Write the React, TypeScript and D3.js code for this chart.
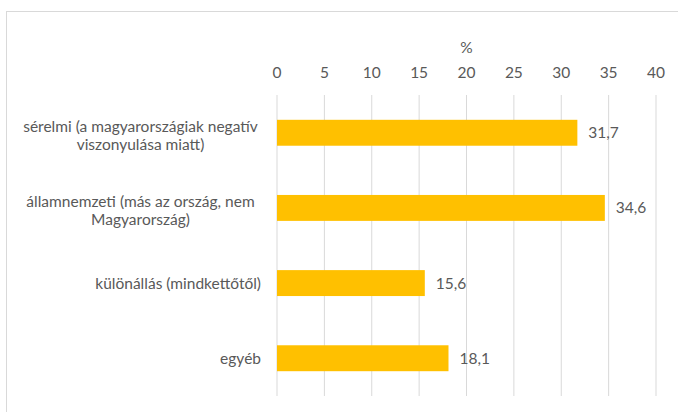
import React from "react";
import * as d3 from "d3";

const categories: string[][] = [
  ["sérelmi (a magyarországiak negatív", "viszonyulása miatt)"],
  ["államnemzeti (más az ország, nem", "Magyarország)"],
  ["különállás (mindkettőtől)"],
  ["egyéb"],
];
const values = [31.7, 34.6, 15.6, 18.1];
const valueLabels = ["31,7", "34,6", "15,6", "18,1"];
const ticks = [0, 5, 10, 15, 20, 25, 30, 35, 40];
const axisTitle = "%";

const W = 678;
const H = 412;
const FONT = "Lato, 'Open Sans', sans-serif";
const TEXT = "#595959";
const GRID = "#d9d9d9";
const BAR = "#FFC000";
const FS = 15.5;

export default function App() {
  const x = d3.scaleLinear().domain([0, 40]).range([277, 656]);
  const y = d3
    .scaleBand<number>()
    .domain(values.map((_, i) => i))
    .range([95, 396])
    .paddingInner(0.655)
    .paddingOuter(0.33);
  const lineH = 18;
  return (
    <svg
      width={W}
      height={H}
      style={{ position: "absolute", left: 0, top: 0 }}
      fontFamily={FONT}
    >
      <rect x={0} y={0} width={W} height={H} fill="#fff" />
      <rect x={6.5} y={11.5} width={W + 20} height={H + 20} fill="none" stroke={GRID} />
      <text x={(x(0) + x(40)) / 2} y={53} textAnchor="middle" fontSize={FS} fill={TEXT}>
        {axisTitle}
      </text>
      {ticks.map((t) => (
        <g key={t}>
          <line x1={x(t)} x2={x(t)} y1={95} y2={396} stroke={GRID} strokeWidth={1} />
          <text x={x(t)} y={78} textAnchor="middle" fontSize={FS} fill={TEXT}>
            {t}
          </text>
        </g>
      ))}
      {values.map((v, i) => {
        const by = y(i)!;
        const bh = y.bandwidth();
        const cy = by + bh / 2;
        const lines = categories[i];
        const multi = lines.length > 1;
        const startY = cy - ((lines.length - 1) * lineH) / 2 + (multi ? 8 : 6);
        return (
          <g key={i}>
            <rect x={x(0)} y={by} width={x(v) - x(0)} height={bh} fill={BAR} />
            <text x={x(v) + 11} y={cy + 5.5} fontSize={FS} fill={TEXT}>
              {valueLabels[i]}
            </text>
            <text fontSize={FS} fill={TEXT}>
              {lines.map((l, j) => (
                <tspan key={j} x={multi ? 140.5 : 261} y={startY + j * lineH} textAnchor={multi ? "middle" : "end"}>
                  {l}
                </tspan>
              ))}
            </text>
          </g>
        );
      })}
    </svg>
  );
}
